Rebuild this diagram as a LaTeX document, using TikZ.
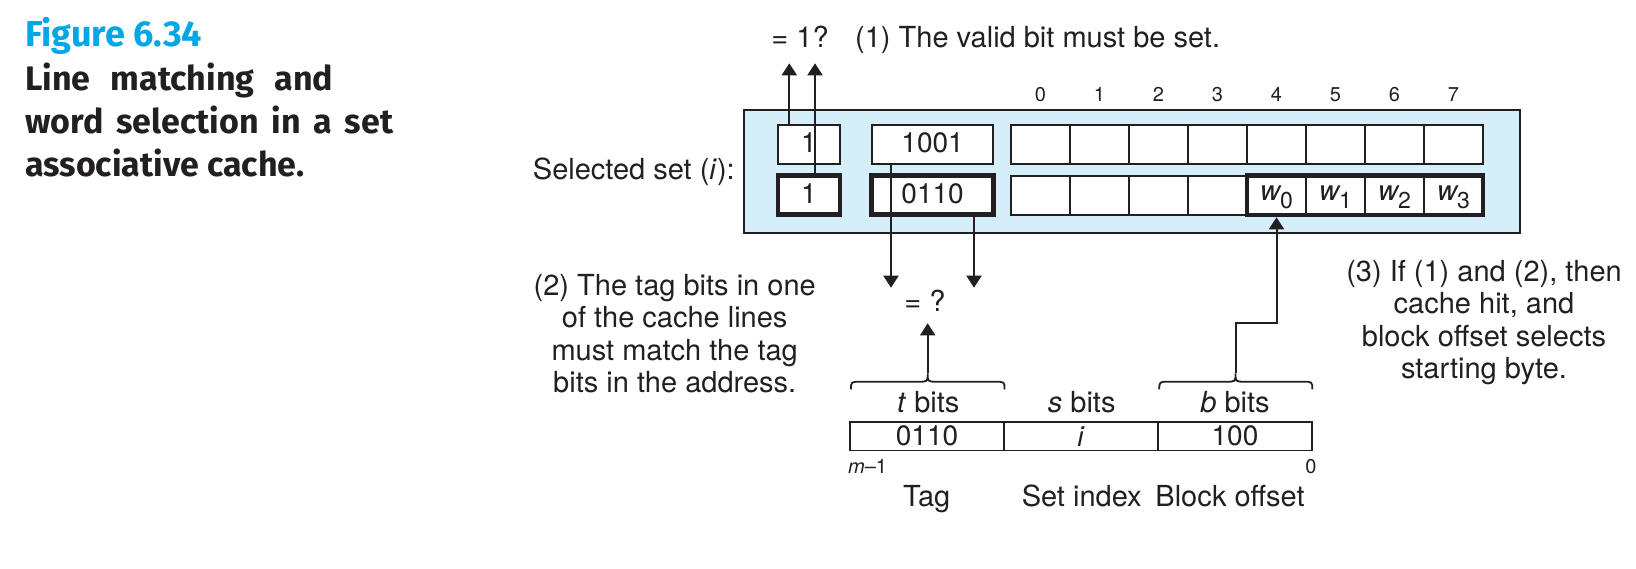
\documentclass[tikz,border=0pt]{standalone}
\usepackage{fontspec}
\setmainfont{TeX Gyre Heros}
\newfontfamily\titlefont{Fira Sans}
\usetikzlibrary{arrows.meta}
\definecolor{ink}{RGB}{35,31,32}
\definecolor{figblue}{RGB}{0,166,230}
\definecolor{setbg}{RGB}{212,238,250}
\newcommand{\fs}[1]{\fontsize{#1}{#1}\selectfont}
\newcommand{\wsub}[1]{{\itshape w}\raisebox{-7.6pt}{\fs{23}#1}}
\begin{document}
\begin{tikzpicture}[x=1pt,y=-1pt,
  txt/.style={inner sep=0pt, text=ink, font=\fs{29}},
  small/.style={inner sep=0pt, text=ink, font=\fs{20}},
  ttl/.style={anchor=base west, inner sep=0pt, font=\titlefont\bfseries\fs{34}},
  cellbox/.style={draw=ink, line width=2pt, fill=white, minimum width=59pt, minimum height=39pt, inner sep=0pt, text=ink, font=\fs{28}, text height=20pt, text depth=9.1pt},
  numbox/.style={draw=ink, line width=2pt, fill=white, minimum height=39pt, inner sep=0pt, font=\fs{28}, text=ink, text height=20.6pt, text depth=4.5pt},
  abox/.style={draw=ink, line width=1.8pt, minimum width=154pt, minimum height=28.5pt, inner sep=0pt, font=\fs{28}, text=ink},
  heavy/.style={line width=4.8pt},
  arr/.style={draw=ink, line width=2pt, -{Triangle[width=15pt,length=12pt]}},
  brace/.style={draw=ink, line width=1.8pt},
  note/.style={inner sep=0pt, text=ink, align=center, anchor=north, font=\fontsize{29}{32.5}\selectfont}
]
\useasboundingbox (0,0) rectangle (1636,568);

% caption
\node[ttl, text=figblue, font=\titlefont\bfseries\fs{36}] (fig) at (25,46.7) {Figure 6.34};
\node[ttl, text=ink] (cap1) at (25,90) {\makebox[308pt][s]{Line matching and}};
\node[ttl, text=ink] (cap2) at (25,133.3) {\makebox[368pt][s]{word selection in a set}};
\node[ttl, text=ink] (cap3) at (25,176.7) {associative cache.};

% selected set
\node[draw=ink, line width=2pt, fill=setbg, minimum width=776pt, minimum height=123.5pt, inner sep=0pt] (set) at (1132,171.25) {};
\node[txt, anchor=base east] (sel) at (735,179.3) {Selected set (\textit{i}):};

\node[numbox, minimum width=62pt] (v1) at (809,144.5) {1};
\node[numbox, minimum width=62pt, heavy] (v2) at (809,195.3) {1};
\node[numbox, minimum width=121.6pt] (t1) at (932.6,144.5) {1001};
\node[numbox, minimum width=121.6pt, heavy] (t2) at (932.6,195.3) {0110};

\foreach \k in {0,...,7} {
  \node[cellbox] (u\k) at ({1040.5+59*\k},144.5) {};
  \node[small, anchor=base] (n\k) at ({1040.5+59*\k},101.7) {\k};
}
\foreach \k in {0,...,3} {
  \node[cellbox] (d\k) at ({1040.5+59*\k},195.3) {};
}
\foreach \k/\w in {4/0,5/1,6/2,7/3} {
  \node[cellbox] (d\k) at ({1040.5+59*\k},195.3) {\wsub{\w}};
}
\node[draw=ink, heavy, minimum width=236pt, minimum height=39.2pt, inner sep=0pt] (wblk) at (1365,195.3) {};

% step 1
\node[txt, anchor=base] (q1) at (800,47.3) {= 1?};
\node[txt, anchor=base west] (s1) at (855,47.3) {(1) The valid bit must be set.};
\coordinate (vq) at (800,63.3);
\coordinate (vl) at ([xshift=12.3pt]v1.north west);
\coordinate (vr) at ([xshift=39.4pt]v2.north west);
\draw[arr] (vl) -- (vl |- vq);
\draw[arr] (vr) -- (vr |- vq);

% step 2
\node[txt, anchor=base] (eq) at (925,311.7) {= ?};
\coordinate (eqtop) at (925,287.7);
\coordinate (eqbot) at (925,323.3);
\coordinate (tl) at ([xshift=20.2pt]t1.south west);
\coordinate (tr) at ([xshift=-21.8pt]t2.south east);
\draw[arr] (tl) -- (tl |- eqtop);
\draw[arr] (tr) -- (tr |- eqtop);

\node[note] (n2) at (674.7,273.8) {(2) The tag bits in one\\of the cache lines\\must match the tag\\bits in the address.};

% braces
\coordinate (ttip) at (927.7,373.3);
\draw[brace] (851,389.3) .. controls (851,381.7) .. (861,381.7) -- (918.5,381.7)
  .. controls (927.7,381.7) .. (ttip) .. controls (927.7,381.7) .. (936.9,381.7)
  -- (994.5,381.7) .. controls (1004.5,381.7) .. (1004.5,389.3);
\draw[arr] (ttip) -- (ttip |- eqbot);

\coordinate (btip) at (1235.5,373.3);
\draw[brace] (1159.3,389.3) .. controls (1159.3,381.7) .. (1169.3,381.7) -- (1226.3,381.7)
  .. controls (1235.5,381.7) .. (btip) .. controls (1235.5,381.7) .. (1244.7,381.7)
  -- (1302.3,381.7) .. controls (1312.3,381.7) .. (1312.3,389.3);
\draw[arr] (btip) -- ++(0,-50.6) -| (d4 |- wblk.south);

% address
\node[txt, anchor=base] (tb) at (928.3,412.3) {\textit{t} bits};
\node[txt, anchor=base] (sb) at (1081.7,412.3) {\textit{s} bits};
\node[txt, anchor=base] (bb) at (1235,412.3) {\textit{b} bits};
\node[abox] (a1) at (927,436.25) {0110};
\node[abox] (a2) at (1081,436.25) {\textit{i}};
\node[abox] (a3) at (1235,436.25) {100};
\node[small, anchor=base west] (mm) at (848,473.3) {\textit{m}\textendash 1};
\node[small, anchor=base east] (z0) at (1316.7,473.3) {0};
\node[txt, anchor=base] (lt) at (926.7,506) {Tag};
\node[txt, anchor=base] (ls) at (1081.7,506) {Set index};
\node[txt, anchor=base] (lb) at (1230,506) {Block offset};

% step 3
\node[note] (n3) at (1484,259.8) {(3) If (1) and (2), then\\cache hit, and\\block offset selects\\starting byte.};
\end{tikzpicture}
\end{document}
